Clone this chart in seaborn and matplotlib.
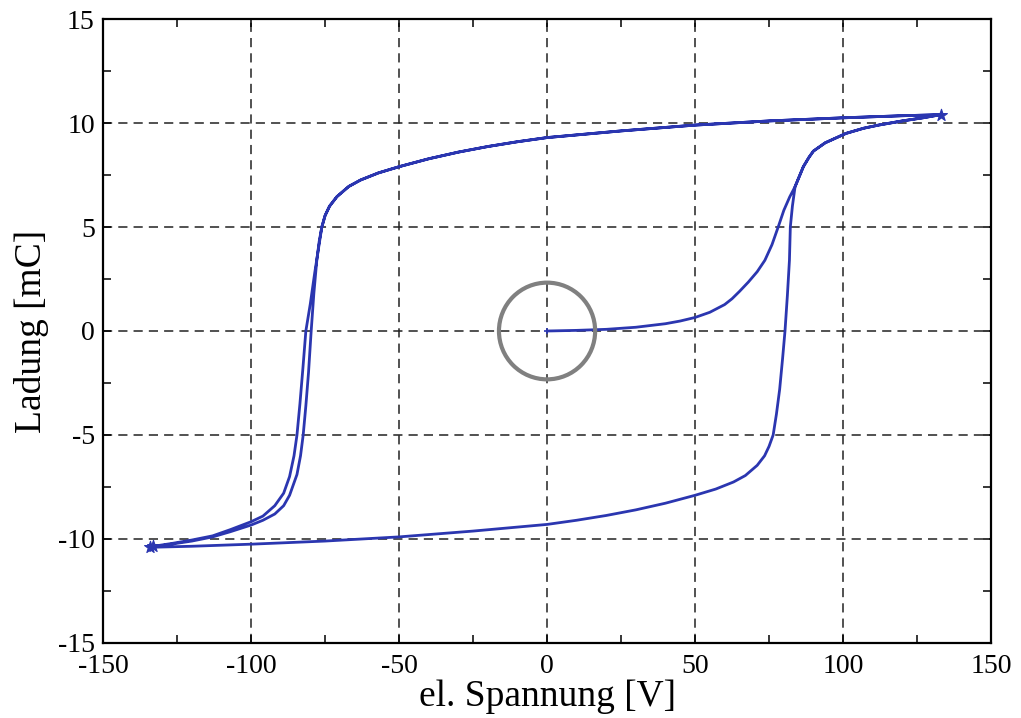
import numpy as np
import pandas as pd
import matplotlib
matplotlib.use("Agg")
import matplotlib.pyplot as plt
from matplotlib.patches import Ellipse
from matplotlib.ticker import MultipleLocator
import seaborn as sns

# Initial curve from the origin up to positive saturation
init_u = [0, 10, 20, 30, 40, 45, 50, 55, 60, 62.5, 65, 68, 71, 73.6, 76, 78.1, 80, 82, 83.8, 86.6, 88.5, 90,
          94, 101, 107, 112, 120, 127, 133]
init_q = [0, 0.03, 0.08, 0.18, 0.35, 0.48, 0.65, 0.9, 1.27, 1.55, 1.9, 2.35, 2.85, 3.4, 4.15, 5.0, 5.8, 6.45,
          6.94, 7.9, 8.35, 8.65, 9.05, 9.5, 9.75, 9.9, 10.1, 10.25, 10.4]

# First descending branch (positive -> negative saturation)
down1_u = [133, 120, 100, 75, 50, 25, 0, -10, -20, -30, -40, -50, -57, -63, -67, -71, -73.5, -75, -76.1, -77,
           -77.8, -78.8, -79.7, -80.6, -81.5, -82.4, -83.3, -84.5, -87, -89, -92, -96, -100, -107, -113, -120,
           -127, -134]
down1_q = [10.4, 10.35, 10.25, 10.1, 9.9, 9.62, 9.3, 9.1, 8.87, 8.6, 8.28, 7.9, 7.6, 7.26, 6.95, 6.46, 6.0,
           5.55, 5.0, 4.3, 3.4, 1.8, 0.0, -2.0, -3.6, -5.0, -6.0, -6.9, -7.9, -8.4, -8.8, -9.1, -9.33, -9.65,
           -9.9, -10.1, -10.25, -10.4]

# Ascending branch (negative -> positive saturation)
up_u = [-134, -120, -100, -75, -50, -25, 0, 10, 20, 30, 40, 50, 57, 63, 67, 71, 73.5, 75, 76.4, 77.5, 78.6,
        79.6, 80.4, 81.2, 81.9, 82.2, 82.9, 83.8, 86.6, 88.5, 90, 94, 101, 107, 112, 120, 127, 133]
up_q = [-10.4, -10.35, -10.25, -10.1, -9.9, -9.62, -9.3, -9.1, -8.87, -8.6, -8.28, -7.9, -7.6, -7.26, -6.95,
        -6.46, -6.0, -5.55, -5.0, -4.0, -2.8, -1.3, 0.0, 1.7, 3.4, 5.0, 6.0, 6.94, 7.9, 8.35, 8.65, 9.05, 9.5,
        9.75, 9.9, 10.1, 10.25, 10.4]

# Second descending branch
down2_u = [133, 120, 100, 75, 50, 25, 0, -10, -20, -30, -40, -50, -57, -63, -67, -71, -73.5, -75, -76.1,
           -77.2, -78.5, -80, -81.5, -82.5, -83.5, -84.5, -85.5, -87, -89, -92, -96, -100, -107, -113, -120,
           -127, -133]
down2_q = [10.4, 10.35, 10.25, 10.1, 9.9, 9.62, 9.3, 9.1, 8.87, 8.6, 8.28, 7.9, 7.6, 7.26, 6.95, 6.46, 6.0,
           5.55, 5.0, 4.0, 2.8, 1.3, 0.0, -1.8, -3.5, -5.0, -6.0, -7.0, -7.8, -8.4, -8.9, -9.17, -9.55, -9.85,
           -10.05, -10.22, -10.35]

x_ticks = [-150, -100, -50, 0, 50, 100, 150]
y_ticks = [-15, -10, -5, 0, 5, 10, 15]

u = init_u + down1_u + up_u + down2_u
q = init_q + down1_q + up_q + down2_q
df = pd.DataFrame({"u": u, "q": q})

sns.set_theme(style="white")
plt.rcParams["font.family"] = ["Liberation Serif", "DejaVu Serif"]

fig = plt.figure(figsize=(10.21, 7.18), dpi=100)
ax = fig.add_axes([0.101, 0.1045, 0.8696, 0.869])

line_color = "#2b36b0"
sns.lineplot(data=df, x="u", y="q", sort=False, estimator=None, color=line_color,
             linewidth=2.0, ax=ax)
# turning points
ends = df.iloc[[len(init_u) - 1, len(init_u) + len(down1_u) - 1, len(u) - 1]]
sns.scatterplot(data=ends, x="u", y="q", marker="*", s=80, color=line_color,
                edgecolor=line_color, linewidth=0.8, ax=ax, zorder=4)
ax.plot([0], [0], marker="+", color=line_color, markersize=5, mew=1.2, zorder=4)

ax.set_xlim(-150, 150)
ax.set_ylim(-15, 15)
ax.set_xticks(x_ticks)
ax.set_yticks(y_ticks)
ax.set_xticklabels([str(t) for t in x_ticks])
ax.set_yticklabels([str(t) for t in y_ticks])
ax.xaxis.set_minor_locator(MultipleLocator(25))
ax.yaxis.set_minor_locator(MultipleLocator(2.5))
ax.tick_params(which="both", direction="in", top=True, right=True, bottom=True, left=True,
               length=6, width=1.1, color="black", labelsize=20, pad=6)
ax.tick_params(axis="x", pad=8)

ax.grid(True, which="major", color="#222222", linestyle=(0, (6, 4)), linewidth=1.1)
for s in ax.spines.values():
    s.set_color("black")
    s.set_linewidth(1.6)
    s.set_visible(True)

ax.set_xlabel("el. Spannung [V]", fontsize=27, color="black", labelpad=0)
ax.set_ylabel("Ladung [mC]", fontsize=27, color="black", labelpad=6)
for lbl in ax.get_xticklabels() + ax.get_yticklabels():
    lbl.set_color("black")

# highlight ring around the origin
ring = Ellipse((0, 0), width=32.5, height=4.65, fill=False, edgecolor="#808080", linewidth=3, zorder=5)
ax.add_patch(ring)

fig.savefig("out.png", dpi=100, facecolor="white")
